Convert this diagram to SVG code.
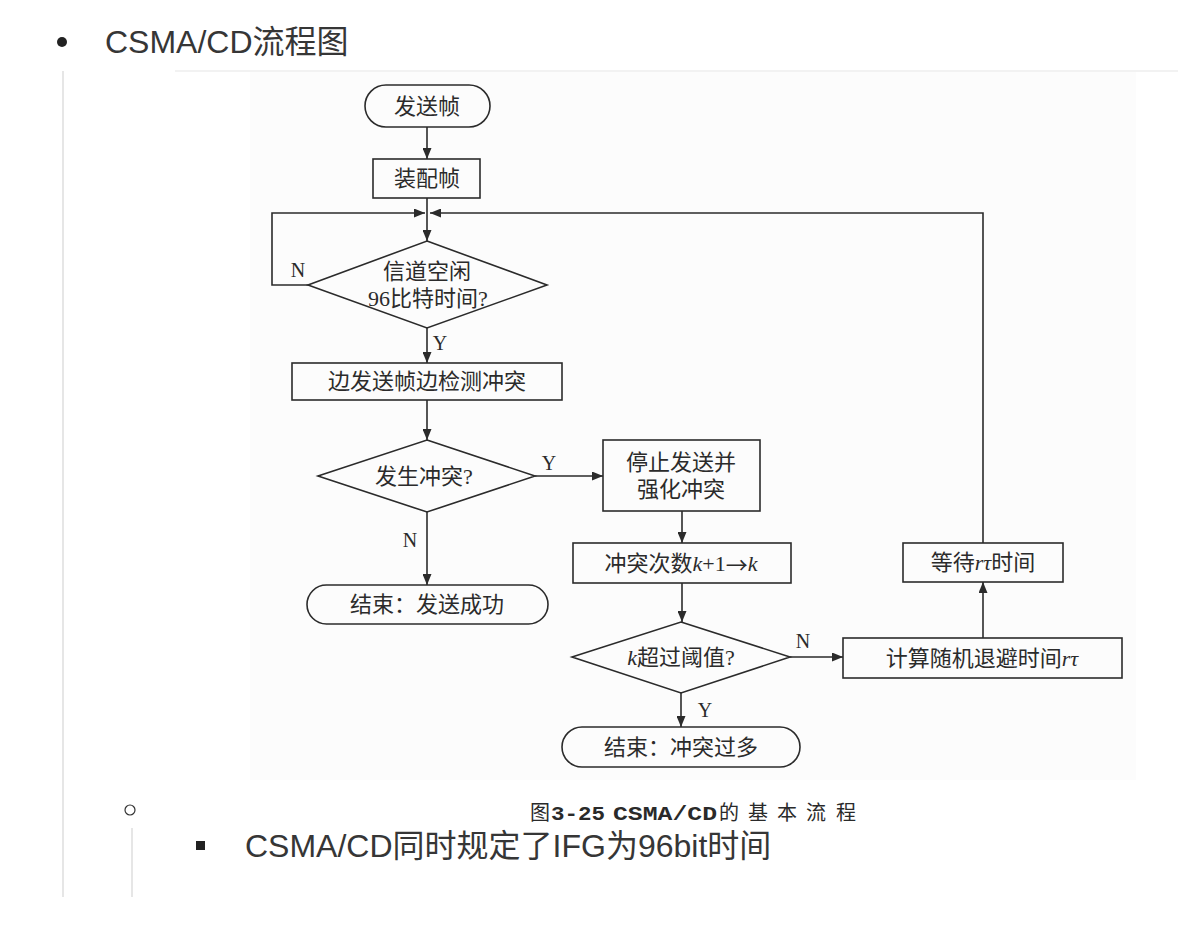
<svg xmlns="http://www.w3.org/2000/svg" width="1178" height="948" viewBox="0 0 1178 948">
<defs>
<marker id="ah" markerUnits="userSpaceOnUse" markerWidth="11" markerHeight="9" refX="11" refY="4.5" orient="auto">
<path d="M0,0 L11,4.5 L0,9 z" fill="#2b2b2b"/>
</marker>
<style>
.shape{fill:none;stroke:#2b2b2b;stroke-width:1.6}
.conn{fill:none;stroke:#2b2b2b;stroke-width:1.6;marker-end:url(#ah)}
.t{font-family:"Liberation Serif","Noto Sans CJK SC",serif;font-size:22px;fill:#2b2b2b;text-anchor:middle;dominant-baseline:central}
.lbl{font-family:"Liberation Serif",serif;font-size:20px;fill:#2b2b2b;text-anchor:middle;dominant-baseline:central}
.page{font-family:"Liberation Sans","Noto Sans CJK SC",sans-serif;font-size:32px;fill:#363636}
.cap{font-family:"Liberation Mono","Noto Sans CJK SC",monospace;font-size:20px;fill:#2a2a2a}
.arr{font-family:"Noto Sans CJK SC",sans-serif}
</style>
</defs>
<rect width="1178" height="948" fill="#ffffff"/>
<!-- page chrome -->
<circle cx="62" cy="42" r="5" fill="#222"/>
<text class="page" x="105" y="53">CSMA/CD流程图</text>
<line x1="63" y1="71" x2="63" y2="897" stroke="#dedede" stroke-width="1.5"/>
<line x1="175" y1="71" x2="1178" y2="71" stroke="#eeeeee" stroke-width="1.5"/>
<rect x="250" y="72" width="886" height="708" fill="#fcfcfc"/>
<circle cx="130" cy="810" r="5" fill="none" stroke="#333" stroke-width="1.2"/>
<text class="cap" y="820"><tspan x="530">图</tspan><tspan x="551" font-weight="bold" textLength="54" lengthAdjust="spacingAndGlyphs">3-25</tspan><tspan x="613" font-weight="bold" textLength="104" lengthAdjust="spacingAndGlyphs">CSMA/CD</tspan><tspan x="719">的</tspan><tspan x="748">基</tspan><tspan x="777">本</tspan><tspan x="806">流</tspan><tspan x="836">程</tspan></text>
<line x1="132" y1="828" x2="132" y2="897" stroke="#dedede" stroke-width="1.5"/>
<rect x="196" y="841" width="9" height="9" fill="#222"/>
<text class="page" x="245" y="857">CSMA/CD同时规定了IFG为96bit时间</text>

<!-- connectors -->
<g id="connectors">
<path class="conn" d="M427,127 L427,159"/>
<path class="conn" d="M427,198 L427,241"/>
<path class="conn" d="M308,285 L272,285 L272,213 L425,213"/>
<path class="conn" d="M427,328 L427,363"/>
<path class="conn" d="M427,400 L427,440"/>
<path class="conn" d="M535,476 L603,476"/>
<path class="conn" d="M427,512 L427,585"/>
<path class="conn" d="M682,511 L682,543"/>
<path class="conn" d="M682,583 L682,622"/>
<path class="conn" d="M790,657 L843,657"/>
<path class="conn" d="M983,638 L983,582"/>
<path class="conn" d="M983,543 L983,213 L430,213"/>
<path class="conn" d="M681,693 L681,727"/>
<text class="lbl" x="298" y="270">N</text>
<text class="lbl" x="440" y="343">Y</text>
<text class="lbl" x="549" y="463">Y</text>
<text class="lbl" x="410" y="540">N</text>
<text class="lbl" x="803" y="641">N</text>
<text class="lbl" x="705" y="710">Y</text>
</g>

<!-- nodes -->
<g id="start">
<rect class="shape" x="365" y="85" width="125" height="42" rx="21" ry="21"/>
<text class="t" x="427" y="106">发送帧</text>
</g>
<g id="assemble">
<rect class="shape" x="373" y="159" width="107" height="39"/>
<text class="t" x="427" y="178">装配帧</text>
</g>
<g id="idle">
<polygon class="shape" points="427,241 547,285 427,328 308,285"/>
<text class="t" x="427" y="271">信道空闲</text>
<text class="t" x="428" y="298">96比特时间?</text>
</g>
<g id="send">
<rect class="shape" x="292" y="363" width="270" height="37"/>
<text class="t" x="427" y="381">边发送帧边检测冲突</text>
</g>
<g id="collide">
<polygon class="shape" points="427,440 535,476 427,512 318,476"/>
<text class="t" x="424" y="476">发生冲突?</text>
</g>
<g id="jam">
<rect class="shape" x="603" y="440" width="157" height="71"/>
<text class="t" x="681" y="462">停止发送并</text>
<text class="t" x="681" y="489">强化冲突</text>
</g>
<g id="success">
<rect class="shape" x="307" y="585" width="241" height="39" rx="19.5" ry="19.5"/>
<text class="t" x="427" y="604">结束：发送成功</text>
</g>
<g id="count">
<rect class="shape" x="573" y="543" width="218" height="40"/>
<text class="t" x="681" y="563">冲突次数<tspan font-style="italic">k</tspan>+1<tspan class="arr">→</tspan><tspan font-style="italic">k</tspan></text>
</g>
<g id="threshold">
<polygon class="shape" points="681,622 790,657 681,693 572,657"/>
<text class="t" x="681" y="657"><tspan font-style="italic">k</tspan>超过阈值?</text>
</g>
<g id="toomany">
<rect class="shape" x="562" y="727" width="238" height="40" rx="20" ry="20"/>
<text class="t" x="681" y="747">结束：冲突过多</text>
</g>
<g id="backoff">
<rect class="shape" x="843" y="638" width="279" height="40"/>
<text class="t" x="982" y="658">计算随机退避时间<tspan font-style="italic">rτ</tspan></text>
</g>
<g id="wait">
<rect class="shape" x="903" y="543" width="160" height="39"/>
<text class="t" x="983" y="562">等待<tspan font-style="italic">rτ</tspan>时间</text>
</g>
</svg>
